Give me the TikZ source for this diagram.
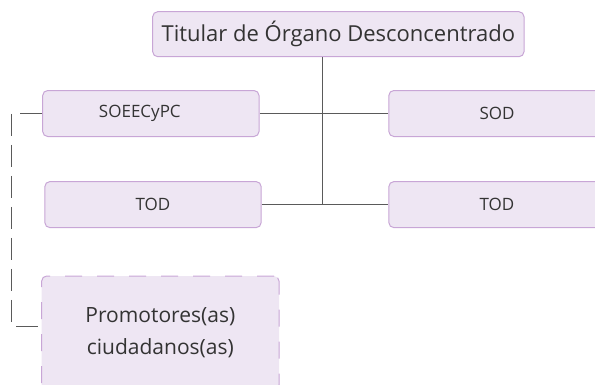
\documentclass[tikz,border=0pt]{standalone}
\usepackage{fontspec}
\setmainfont{Open Sans}
\definecolor{boxfill}{RGB}{238,230,243}
\definecolor{boxdraw}{RGB}{200,166,214}
\definecolor{txt}{RGB}{51,51,51}
\definecolor{ln}{RGB}{90,90,90}
\begin{document}
\begin{tikzpicture}[x=1pt,y=-1pt,
  box/.style={draw=boxdraw, fill=boxfill, rounded corners=5pt, line width=1pt,
    text=txt, inner sep=0pt, minimum width=216.3pt, minimum height=46pt,
    font=\fontsize{17}{20}\selectfont},
  titlebox/.style={box, minimum width=371.3pt, minimum height=45pt,
    font=\fontsize{22}{26}\selectfont},
  dashbox/.style={box, dash pattern=on 17pt off 15pt, minimum width=237.3pt,
    minimum height=114pt, align=center, font=\fontsize{21}{31.7}\selectfont},
  conn/.style={draw=ln, line width=1pt},
  dconn/.style={draw=ln, line width=1pt, dash pattern=on 22pt off 9pt}]
\useasboundingbox (0,0) rectangle (595,384);
\node[titlebox] (title) at (338.35,34.2) {Titular de Órgano Desconcentrado};
\node[box] (soe) at (150.85,113.5) {SOEECyPC\hspace*{22pt}};
\node[box] (sod) at (497,113.5) {SOD};
\node[box] (todl) at (153,204.6) {TOD};
\node[box] (todr) at (497,204.6) {TOD};
\node[dashbox] (prom) at (160.35,333) {Promotores(as)\\ciudadanos(as)};
\coordinate (jx) at (322,0);
\coordinate (c) at (11.5,326);
\draw[conn] (title.south -| jx) -- (todl.east -| jx);
\draw[conn] (soe.east) -- (sod.west);
\draw[conn] (todl.east) -- (todr.west);
\draw[dconn] (soe.west) -| (c) -- (c -| prom.west);
\end{tikzpicture}
\end{document}
